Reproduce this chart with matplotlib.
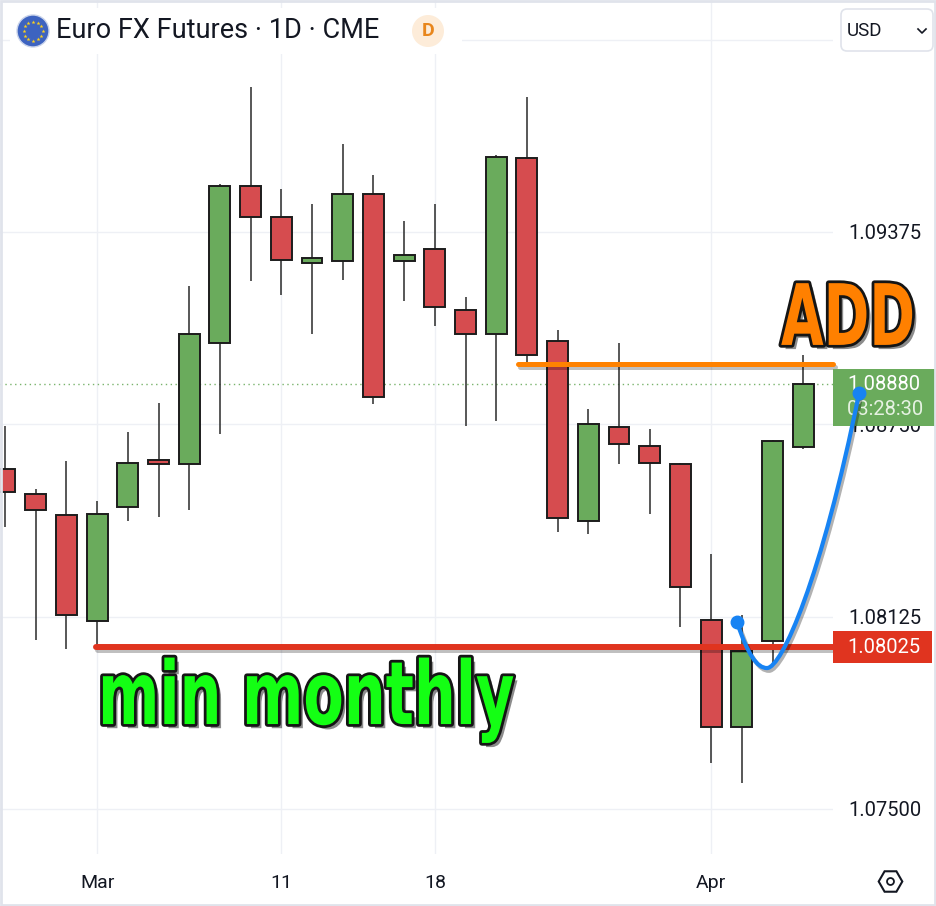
import matplotlib
matplotlib.use("Agg")
import matplotlib.pyplot as plt
from matplotlib.patches import Rectangle, FancyBboxPatch, Circle, PathPatch
from matplotlib.path import Path
from matplotlib.transforms import Affine2D
import matplotlib.patheffects as pe
import numpy as np

plt.rcParams['font.family'] = ['Roboto', 'DejaVu Sans']

# ---------------- data ----------------
dates = ["Feb 27", "Feb 28", "Feb 29", "Mar 1",
         "Mar 4", "Mar 5", "Mar 6", "Mar 7", "Mar 8",
         "Mar 11", "Mar 12", "Mar 13", "Mar 14", "Mar 15",
         "Mar 18", "Mar 19", "Mar 20", "Mar 21", "Mar 22",
         "Mar 25", "Mar 26", "Mar 27", "Mar 28",
         "Apr 1", "Apr 2", "Apr 3", "Apr 4"]
opens = [1.08605, 1.08525, 1.08455, 1.0811, 1.0848, 1.08635, 1.0862, 1.09015,
         1.09525, 1.09425, 1.09275, 1.0928, 1.0950, 1.0928, 1.0932, 1.0912,
         1.09045, 1.09615, 1.0902, 1.08435, 1.0874, 1.0868, 1.0862, 1.08115,
         1.07765, 1.08045, 1.08675]
highs = [1.08745, 1.0854, 1.0863, 1.0850, 1.08725, 1.0882, 1.0920, 1.0953,
         1.09845, 1.09515, 1.09465, 1.0966, 1.0956, 1.0941, 1.09465, 1.09165,
         1.09625, 1.09815, 1.09055, 1.0880, 1.09015, 1.08735, 1.08625, 1.0833,
         1.0813, 1.0870, 1.08975]
lows = [1.08415, 1.0805, 1.0802, 1.08025, 1.08435, 1.0845, 1.0847, 1.0872,
        1.09215, 1.0917, 1.09045, 1.0922, 1.08815, 1.0915, 1.0907, 1.08745,
        1.0876, 1.08935, 1.0840, 1.08395, 1.0862, 1.0846, 1.0809, 1.0765,
        1.07585, 1.0797, 1.0867]
closes = [1.0853, 1.0847, 1.0813, 1.0846, 1.08625, 1.0862, 1.09045, 1.09525,
          1.09425, 1.09285, 1.0929, 1.0950, 1.0884, 1.0930, 1.0913, 1.09045,
          1.0962, 1.08975, 1.08445, 1.0875, 1.08685, 1.08625, 1.0822, 1.07765,
          1.08015, 1.08695, 1.0888]

time_tick_idx = [3, 9, 14, 23]
time_tick_labels = ["Mar", "11", "18", "Apr"]
price_ticks = [1.07500, 1.08125, 1.08750, 1.09375, 1.10000]
price_tick_labels = ["1.07500", "1.08125", "1.08750", "1.09375", ""]

last_price = 1.08880
countdown = "03:28:30"
min_monthly = 1.08025
min_monthly_start = 2.96
add_level = 1.08945
add_start = 16.7
title = "Euro FX Futures \u00b7 1D \u00b7 CME"

# hand drawn blue arrow curve (bezier control points, index / price)
curve_x = [23.84, 24.2, 24.5, 24.82, 25.3, 26.6, 27.82]
curve_y = [1.08108, 1.0800, 1.07958, 1.07958, 1.07958, 1.0825, 1.08852]


class HSqueeze(pe.AbstractPathEffect):
    """Wrap a path effect and squeeze it horizontally around display x0."""
    def __init__(self, effect, sx, x0):
        super().__init__()
        self.effect, self.sx, self.x0 = effect, sx, x0

    def draw_path(self, renderer, gc, tpath, affine, rgbFace=None):
        t = affine + Affine2D().translate(-self.x0, 0).scale(self.sx, 1).translate(self.x0, 0)
        self.effect.draw_path(renderer, gc, tpath, t, rgbFace)


def big_text_effects(sx, x0):
    base = [pe.SimplePatchShadow(offset=(3, -3), alpha=0.45, shadow_rgbFace='k'),
            pe.Stroke(linewidth=4, foreground='#151515'), pe.Normal()]
    return [HSqueeze(e, sx, x0) for e in base]


# ---------------- figure ----------------
W, H = 936, 906
fig = plt.figure(figsize=(W / 100, H / 100), dpi=100)
fig.patch.set_facecolor('white')
ax = fig.add_axes([0, 52 / H, 833 / W, 854 / H])
ax.set_facecolor('white')
ax.set_xlim(-0.163, 26.97)
ax.set_ylim(1.073537, 1.101289)
for s in ax.spines.values():
    s.set_visible(False)

UP = '#6aab5c'
DOWN = '#d64c4f'
EDGE = '#1c1c1c'

x = np.arange(len(opens))
ax.vlines(x, lows, highs, color='#2a2a2a', lw=1.1, zorder=2)
bw = 0.68
for i in range(len(opens)):
    o, c = opens[i], closes[i]
    col = UP if c >= o else DOWN
    ax.add_patch(Rectangle((x[i] - bw / 2, min(o, c)), bw, abs(c - o),
                           facecolor=col, edgecolor=EDGE, lw=1.4, zorder=3))

# axes ticks / grid
ax.set_xticks(time_tick_idx)
ax.set_xticklabels(time_tick_labels)
ax.tick_params(axis='x', length=0, pad=14.5, labelsize=14, colors='#131722')
ax.yaxis.tick_right()
ax.set_yticks(price_ticks)
ax.set_yticklabels(price_tick_labels)
ax.tick_params(axis='y', length=0, pad=11, labelsize=14.5, colors='#131722')
ax.grid(True, color='#eef0f5', lw=1.0, zorder=0)
ax.set_axisbelow(True)

# current price dotted line
ax.axhline(last_price, color=UP, lw=1.0, ls=(0, (1, 2.5)), alpha=0.9, zorder=1)

shadow = [pe.SimpleLineShadow(offset=(1.5, -2), alpha=0.25, shadow_color='k'), pe.Normal()]

# orange ADD level line
ax.plot([add_start, 26.97], [add_level, add_level], color='#ff8200', lw=3.6,
        solid_capstyle='round', zorder=6, path_effects=shadow, clip_on=False)
# red min monthly line
ax.plot([min_monthly_start, 26.97], [min_monthly, min_monthly], color='#e0341f', lw=4.3,
        solid_capstyle='round', zorder=6, path_effects=shadow, clip_on=False)

# price boxes on the price axis (axes-x / data-y)
trans = ax.get_yaxis_transform()
ax.add_patch(Rectangle((1.0, 1.08745), 102 / 833, 1.08930 - 1.08745, transform=trans,
                       facecolor=UP, edgecolor='none', clip_on=False, zorder=7))
ax.text(1.0 + 14 / 833, last_price, f"{last_price:.5f}", transform=trans, color='white',
        fontsize=14.5, va='center', ha='left', zorder=8, clip_on=False)
ax.text(1.0 + 14 / 833, last_price - 0.00081, countdown, transform=trans, color='#e6f2e2',
        fontsize=14.5, va='center', ha='left', zorder=8, clip_on=False)
ax.add_patch(Rectangle((1.0, 1.07976), 99 / 833, 1.08079 - 1.07976, transform=trans,
                       facecolor='#e0341f', edgecolor='none', clip_on=False, zorder=7))
ax.text(1.0 + 14 / 833, min_monthly, f"{min_monthly:.5f}", transform=trans, color='white',
        fontsize=14.5, va='center', ha='left', zorder=8, clip_on=False)

# blue curve
verts = list(zip(curve_x, curve_y))
codes = [Path.MOVETO] + [Path.CURVE4] * 6
ax.add_patch(PathPatch(Path(verts, codes), facecolor='none', edgecolor='#1783f3', lw=3.0,
                       capstyle='round', zorder=9, clip_on=False,
                       path_effects=[pe.SimpleLineShadow(offset=(1.5, -2), alpha=0.3,
                                                         shadow_color='k'), pe.Normal()]))
ax.plot([curve_x[0], curve_x[-1]], [curve_y[0], curve_y[-1]], 'o', color='#1783f3',
        ms=9, zorder=10, clip_on=False)

# big annotations (condensed heavy look)
add_x, add_y = 29.64, 1.09008          # right edge of the word
x0_add = ax.transData.transform((add_x, add_y))[0]
ax.text(add_x, add_y, "ADD", fontsize=61, fontweight='bold', color='#ff8000',
        family='DejaVu Sans', ha='right', va='baseline',
        zorder=11, clip_on=False, path_effects=big_text_effects(0.65, x0_add))
mm_x, mm_y = 3.03, 1.07776
x0_mm = ax.transData.transform((mm_x, mm_y))[0]
ax.text(mm_x, mm_y, "min monthly", fontsize=63, fontweight='bold', color='#14ff14',
        family='DejaVu Sans', ha='left', va='baseline',
        zorder=11, path_effects=big_text_effects(0.673, x0_mm))

# ---------------- overlay (header, icons) in pixel coordinates ----------------
ov = fig.add_axes([0, 0, 1, 1], zorder=5)
ov.set_xlim(0, W)
ov.set_ylim(H, 0)
ov.axis('off')
ov.patch.set_alpha(0)
ov.add_patch(Rectangle((10, 8), 452, 46, facecolor='white', edgecolor='none'))
# EU flag icon
ov.add_patch(Circle((33, 31), 16, facecolor='#3d63c0', edgecolor='#c9d3ea', lw=1))
ang = np.linspace(0, 2 * np.pi, 13)[:-1]
ov.scatter(33 + 9.5 * np.cos(ang), 31 + 9.5 * np.sin(ang), marker='*', s=9, color='#ffd21a', lw=0)
ov.text(56, 31, title, fontsize=19.5, color='#131722', va='center', ha='left')
# D badge
ov.add_patch(Circle((428, 31), 16, facecolor='#fdecd9', edgecolor='none'))
ov.text(428, 31, "D", fontsize=14, color='#e8861c', va='center', ha='center', fontweight='bold')
# USD selector
ov.add_patch(FancyBboxPatch((841, 9), 92, 42, boxstyle='round,pad=0,rounding_size=6',
                            facecolor='white', edgecolor='#e0e3eb', lw=1.2))
ov.text(847, 31, "USD", fontsize=13.5, color='#131722', va='center', ha='left')
ov.plot([918, 922, 926], [29, 33, 29], color='#131722', lw=1.2)
# settings icon
ov.plot([890], [881], marker='H', ms=17, mfc='none', mec='#131722', mew=1.5)
ov.plot([890], [881], marker='o', ms=5, mfc='none', mec='#131722', mew=1.3)
# outer border
ov.add_patch(Rectangle((1, 1), W - 2, H - 2, facecolor='none', edgecolor='#e0e3eb', lw=2))

fig.savefig("out.png", dpi=100, facecolor='white')
